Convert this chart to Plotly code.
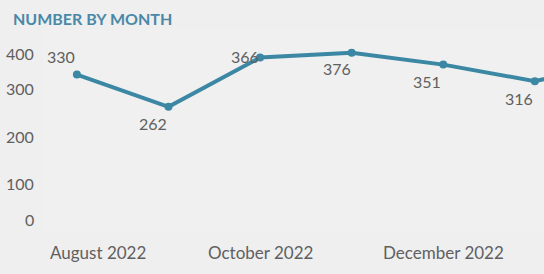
import plotly.graph_objects as go

months = ["August 2022", "September 2022", "October 2022", "November 2022",
          "December 2022", "January 2023", "February 2023"]
values = [330, 262, 366, 376, 351, 316, 360]
shown_months = ["August 2022", "October 2022", "December 2022"]
y_ticks = [0, 100, 200, 300, 400]

# label offsets (px) for value labels, kept separate from data
label_dx = [-16, -15, -15, -15, -16, -16, -16]
label_dy = [18, -17, 1, -16, -17, -17, -17]
# edge tick labels nudged inward as in the reference
ytick_shift = {0: 12, 400: -12}
xtick_shift = {"August 2022": 21}

LINE = "#3b87a4"
TXT = "#606060"
FONT = "Lato"

fig = go.Figure()
fig.add_trace(go.Scatter(
    x=months, y=values, mode="lines+markers",
    line=dict(color=LINE, width=4),
    marker=dict(color=LINE, size=8),
    cliponaxis=True, hoverinfo="skip"))

ann = []
for m, v, dx, dy in zip(months, values, label_dx, label_dy):
    if m == months[-1]:
        continue
    ann.append(dict(x=m, y=v, xref="x", yref="y", text=str(v), showarrow=False,
                    xshift=dx, yshift=dy, font=dict(family=FONT, size=16, color=TXT)))
for t in y_ticks:
    ann.append(dict(x=0, y=t, xref="paper", yref="y", text=str(t), showarrow=False,
                    xanchor="right", xshift=-7, yshift=ytick_shift.get(t, 0),
                    font=dict(family=FONT, size=16, color=TXT)))
for m in shown_months:
    ann.append(dict(x=m, y=0, xref="x", yref="paper", text=m, showarrow=False,
                    yanchor="middle", yshift=-21, xshift=xtick_shift.get(m, 0),
                    font=dict(family=FONT, size=17, color=TXT)))
ann.append(dict(x=0, y=1, xref="paper", yref="paper", text="<b>NUMBER BY MONTH</b>",
                showarrow=False, xanchor="left", yanchor="middle", xshift=-32, yshift=12,
                font=dict(family=FONT, size=16, color="#4a88a8")))

fig.update_layout(
    width=544, height=274,
    margin=dict(l=43, r=0, t=30, b=43),
    paper_bgcolor="#efefef", plot_bgcolor="#f0f0f0",
    showlegend=False,
    annotations=ann,
    xaxis=dict(type="category", range=[-0.37, 5.1], showticklabels=False,
               showgrid=False, zeroline=False, showline=False, fixedrange=True),
    yaxis=dict(range=[0, 424], showticklabels=False, showgrid=False,
               zeroline=False, showline=False, fixedrange=True),
)
fig.write_html("out.html", config={"displayModeBar": False})
